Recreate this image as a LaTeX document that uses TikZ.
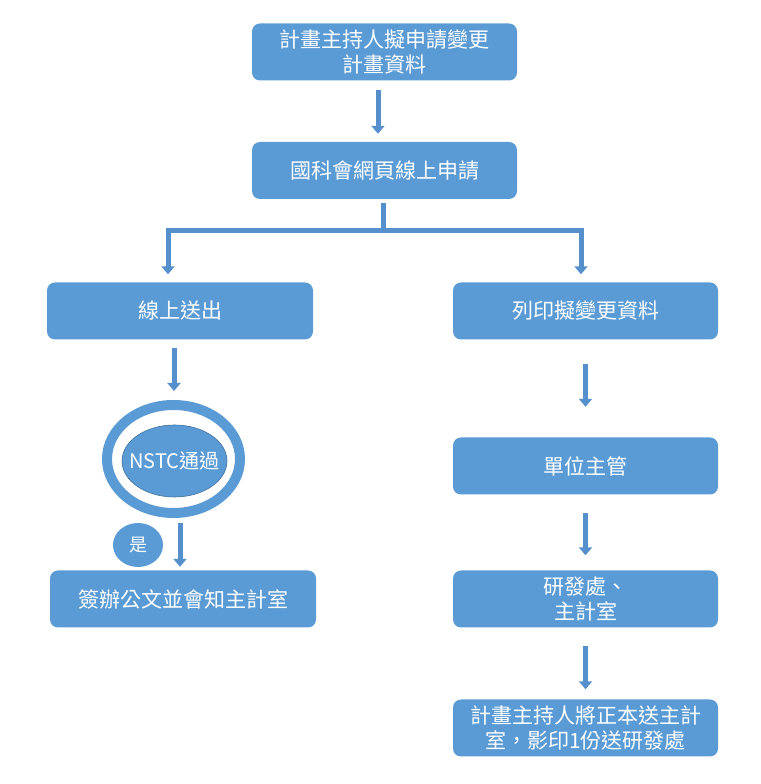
\documentclass[tikz,border=0pt]{standalone}
\usepackage{fontspec}
\setmainfont{Noto Sans CJK TC}
\usetikzlibrary{arrows.meta,calc,positioning,shapes.geometric}
\definecolor{boxblue}{HTML}{5B9BD5}
\definecolor{arrowblue}{HTML}{5590CC}
\definecolor{lineblue}{HTML}{41719C}

\begin{document}
\begin{tikzpicture}[x=1pt, y=1pt,
  box/.style = {rectangle, rounded corners=8pt, fill=boxblue, text=white,
    minimum width=265pt, minimum height=57pt, align=center, inner sep=0pt,
    font=\fontsize{21}{25}\selectfont},
  arr/.style = {draw=arrowblue, line width=5pt, -{Triangle[width=13pt, length=8pt]}},
  bar/.style = {draw=arrowblue, line width=5pt}]
  \useasboundingbox (0,0) rectangle (760,784);

  \node[box] (b1) at (384.5,732) {計畫主持人擬申請變更\\計畫資料};
  \node[box] (b2) at (384.5,613.5) {國科會網頁線上申請};
  \node[box, minimum width=266pt] (b3) at (180,473) {線上送出};
  \node[box] (b4) at (585.5,473) {列印擬變更資料};
  \node[box] (b6) at (585.5,318) {單位主管};
  \node[box] (b7) at (585.5,185) {研發處、\\主計室};
  \node[box] (b8) at (585.5,56) {計畫主持人將正本送主計\\室，影印1份送研發處};
  \node[box, minimum width=266pt] (b5) at (183,185) {簽辦公文並會知主計室};

  \node[ellipse, draw=boxblue, line width=10pt, minimum width=133pt, minimum height=108pt] (ring) at (173.5,325) {};
  \node[ellipse, fill=boxblue, draw=lineblue, line width=0.6pt, minimum width=105pt, minimum height=72pt,
    label={[text=white, font=\fontsize{20}{24}\selectfont]center:NSTC通過}] (pass) at (174.5,323) {};
  \node[ellipse, fill=boxblue, text=white, minimum width=50pt, minimum height=44pt, inner sep=0pt,
    font=\fontsize{18}{22}\selectfont] (yes) at (138,239) {是};

  \draw[arr, shorten <=9pt, shorten >=8pt] ([xshift=-6.5pt]b1.south) -- ([xshift=-6.5pt]b2.north);

  \coordinate (fork) at (383,553);
  \draw[bar, shorten <=4pt] (b2.south -| fork) -- (fork);
  \draw[arr, shorten >=8pt] (fork) -| ([xshift=-12pt]b3.north);
  \draw[arr, shorten >=8pt] (fork) -| ([xshift=-4.5pt]b4.north);

  \draw[arr, shorten <=8pt, shorten >=9pt] ([xshift=-6pt]b3.south) -- ([xshift=-6pt]b3.south |- ring.north);
  \draw[arr, shorten <=5pt, shorten >=3.5pt] ([xshift=6.5pt]ring.south) -- ([xshift=-3pt]b5.north);

  \draw[arr, shorten <=24pt, shorten >=30.5pt] (b4) -- (b6);
  \draw[arr, shorten <=18pt, shorten >=15pt] (b6) -- (b7);
  \draw[arr, shorten <=18pt, shorten >=10pt] (b7) -- (b8);
\end{tikzpicture}
\end{document}
